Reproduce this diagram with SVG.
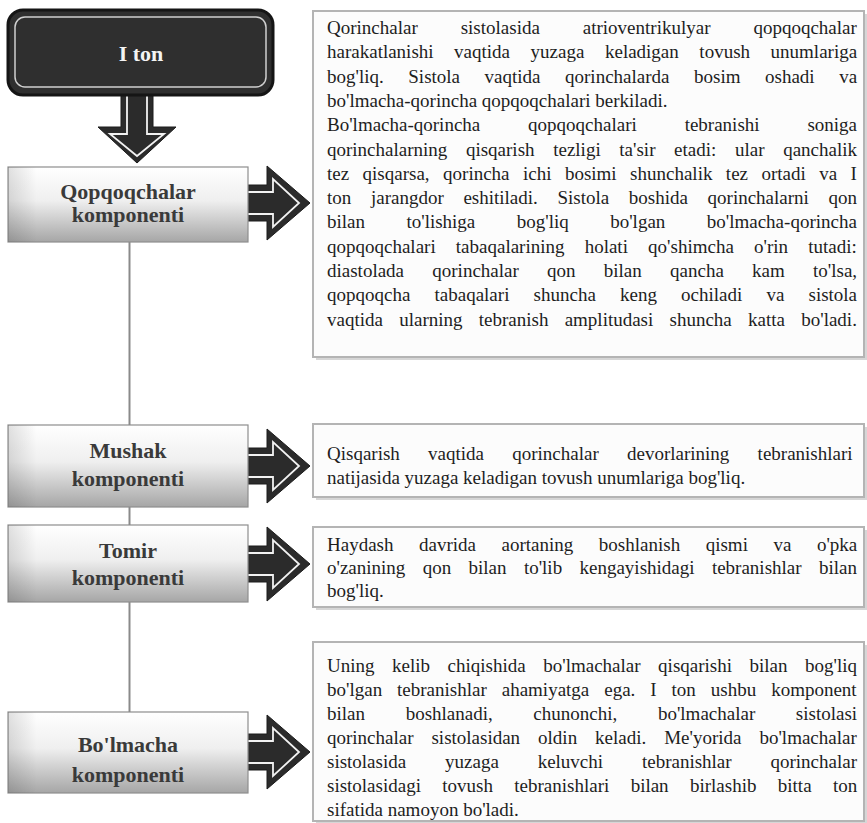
<svg xmlns="http://www.w3.org/2000/svg" width="867" height="823" viewBox="0 0 867 823">
<style>
.body{font-family:"Liberation Serif","Times New Roman",serif;font-size:19px;fill:#1e1e1e}
.lbl{font-family:"Liberation Serif","Times New Roman",serif;font-size:22px;font-weight:bold;fill:#3a3a3a;text-anchor:middle}
.title{font-family:"Liberation Serif","Times New Roman",serif;font-size:22px;font-weight:bold;fill:#f4f4f4;text-anchor:middle}
.tbox{fill:#fcfcfc;stroke:#b4b4b4;stroke-width:2}
.tshadow{fill:#d6d6d6}
.nbox{fill:url(#g);stroke:#8e8e8e;stroke-width:1.2}
.conn{stroke:#8a8a8a;stroke-width:2;fill:none}
.aout{fill:#2b2b2b;stroke:#1c1c1c;stroke-width:1}
.ain{fill:none;stroke:#f2f2f2;stroke-width:1.8;stroke-linejoin:miter}
</style>
<defs>
<linearGradient id="g" x1="0" y1="0" x2="0" y2="1">
<stop offset="0" stop-color="#ffffff"/>
<stop offset="0.45" stop-color="#efefef"/>
<stop offset="1" stop-color="#a6a6a6"/>
</linearGradient>
<linearGradient id="gs" x1="0" y1="0" x2="1" y2="0">
<stop offset="0" stop-color="#000" stop-opacity="0.12"/>
<stop offset="0.12" stop-color="#000" stop-opacity="0"/>
<stop offset="1" stop-color="#000" stop-opacity="0"/>
</linearGradient>
<g id="rarrow">
<path class="aout" d="M0,-18 H20 V-37 L63,0 L20,37 V18 H0 Z"/>
<path class="ain" d="M0,-11 H26 V-24 L52,0 L26,24 V11 H0"/>
</g>
</defs>
<rect width="867" height="823" fill="#ffffff"/>

<g id="connectors">
<line class="conn" x1="129.5" y1="242" x2="129.5" y2="425"/>
<line class="conn" x1="129.5" y1="507" x2="129.5" y2="525"/>
<line class="conn" x1="129.5" y1="602" x2="129.5" y2="712"/>
<g id="down-arrow">
<path class="aout" d="M121,94 H153 V127 H176 L137,163 L98,127 H121 Z"/>
<path class="ain" d="M127,94 V134 H110 L137,156 L164,134 H147 V94"/>
</g>
<use href="#rarrow" x="247" y="203"/>
<use href="#rarrow" x="247" y="466"/>
<use href="#rarrow" x="247" y="564"/>
<use href="#rarrow" x="247" y="752"/>
</g>

<g id="n-iton">
<rect x="8" y="10" width="265" height="85" rx="15" fill="#2f2f2f" stroke="#151515" stroke-width="3"/>
<rect x="15" y="17" width="251" height="70" rx="10" fill="none" stroke="#cfcfcf" stroke-width="1.5"/>
<text class="title" x="141" y="61">I ton</text>
</g>

<g id="n-qopqoq">
<rect class="nbox" x="8" y="167" width="240" height="75"/>
<rect x="8" y="167" width="240" height="75" fill="url(#gs)"/>
<text class="lbl" x="128" y="199">Qopqoqchalar</text>
<text class="lbl" x="128" y="222">komponenti</text>
</g>

<g id="n-mushak">
<rect class="nbox" x="8" y="425" width="240" height="82"/>
<rect x="8" y="425" width="240" height="82" fill="url(#gs)"/>
<text class="lbl" x="128" y="458">Mushak</text>
<text class="lbl" x="128" y="486">komponenti</text>
</g>

<g id="n-tomir">
<rect class="nbox" x="8" y="525" width="240" height="77"/>
<rect x="8" y="525" width="240" height="77" fill="url(#gs)"/>
<text class="lbl" x="128" y="558">Tomir</text>
<text class="lbl" x="128" y="585">komponenti</text>
</g>

<g id="n-bolmacha">
<rect class="nbox" x="8" y="712" width="240" height="81"/>
<rect x="8" y="712" width="240" height="81" fill="url(#gs)"/>
<text class="lbl" x="128" y="752">Bo'lmacha</text>
<text class="lbl" x="128" y="782">komponenti</text>
</g>

<g id="t-qopqoq">
<rect class="tshadow" x="316" y="14" width="551" height="346"/>
<rect class="tbox" x="313" y="11" width="551" height="346"/>
<text class="body" x="327" y="34" word-spacing="38.2">Qorinchalar sistolasida atrioventrikulyar qopqoqchalar</text>
<text class="body" x="327" y="58.3" word-spacing="15.8">harakatlanishi vaqtida yuzaga keladigan tovush unumlariga</text>
<text class="body" x="327" y="82.6" word-spacing="19.8">bog'liq. Sistola vaqtida qorinchalarda bosim oshadi va</text>
<text class="body" x="327" y="106.9">bo'lmacha-qorincha qopqoqchalari berkiladi.</text>
<text class="body" x="327" y="131.2" word-spacing="43.1">Bo'lmacha-qorincha qopqoqchalari tebranishi soniga</text>
<text class="body" x="327" y="155.5" word-spacing="13.9">qorinchalarning qisqarish tezligi ta'sir etadi: ular qanchalik</text>
<text class="body" x="327" y="179.8" word-spacing="8.7">tez qisqarsa, qorincha ichi bosimi shunchalik tez ortadi va I</text>
<text class="body" x="327" y="204.1" word-spacing="14.9">ton jarangdor eshitiladi. Sistola boshida qorinchalarni qon</text>
<text class="body" x="327" y="228.4" word-spacing="36.7">bilan to'lishiga bog'liq bo'lgan bo'lmacha-qorincha</text>
<text class="body" x="327" y="252.7" word-spacing="15.4">qopqoqchalari tabaqalarining holati qo'shimcha o'rin tutadi:</text>
<text class="body" x="327" y="277" word-spacing="23.5">diastolada qorinchalar qon bilan qancha kam to'lsa,</text>
<text class="body" x="327" y="301.3" word-spacing="19.4">qopqoqcha tabaqalari shuncha keng ochiladi va sistola</text>
<text class="body" x="327" y="325.6" word-spacing="11.5">vaqtida ularning tebranish amplitudasi shuncha katta bo'ladi.</text>
</g>

<g id="t-mushak">
<rect class="tshadow" x="316" y="427" width="551" height="73"/>
<rect class="tbox" x="313" y="424" width="551" height="73"/>
<text class="body" x="327" y="460" word-spacing="23.5">Qisqarish vaqtida qorinchalar devorlarining tebranishlari</text>
<text class="body" x="327" y="484">natijasida yuzaga keladigan tovush unumlariga bog'liq.</text>
</g>

<g id="t-tomir">
<rect class="tshadow" x="316" y="530" width="551" height="80"/>
<rect class="tbox" x="313" y="527" width="551" height="80"/>
<text class="body" x="327" y="551" word-spacing="20.8">Haydash davrida aortaning boshlanish qismi va o'pka</text>
<text class="body" x="327" y="574" word-spacing="12.6">o'zanining qon bilan to'lib kengayishidagi tebranishlar bilan</text>
<text class="body" x="327" y="597">bog'liq.</text>
</g>

<g id="t-bolmacha">
<rect class="tshadow" x="316" y="645" width="551" height="179"/>
<rect class="tbox" x="313" y="642" width="551" height="179"/>
<text class="body" x="327" y="672" word-spacing="12.8">Uning kelib chiqishida bo'lmachalar qisqarishi bilan bog'liq</text>
<text class="body" x="327" y="696" word-spacing="10.2">bo'lgan tebranishlar ahamiyatga ega. I ton ushbu komponent</text>
<text class="body" x="327" y="720" word-spacing="35.9">bilan boshlanadi, chunonchi, bo'lmachalar sistolasi</text>
<text class="body" x="327" y="744" word-spacing="13.2">qorinchalar sistolasidan oldin keladi. Me'yorida bo'lmachalar</text>
<text class="body" x="327" y="768" word-spacing="34.1">sistolasida yuzaga keluvchi tebranishlar qorinchalar</text>
<text class="body" x="327" y="792" word-spacing="16.6">sistolasidagi tovush tebranishlari bilan birlashib bitta ton</text>
<text class="body" x="327" y="816">sifatida namoyon bo'ladi.</text>
</g>
</svg>
